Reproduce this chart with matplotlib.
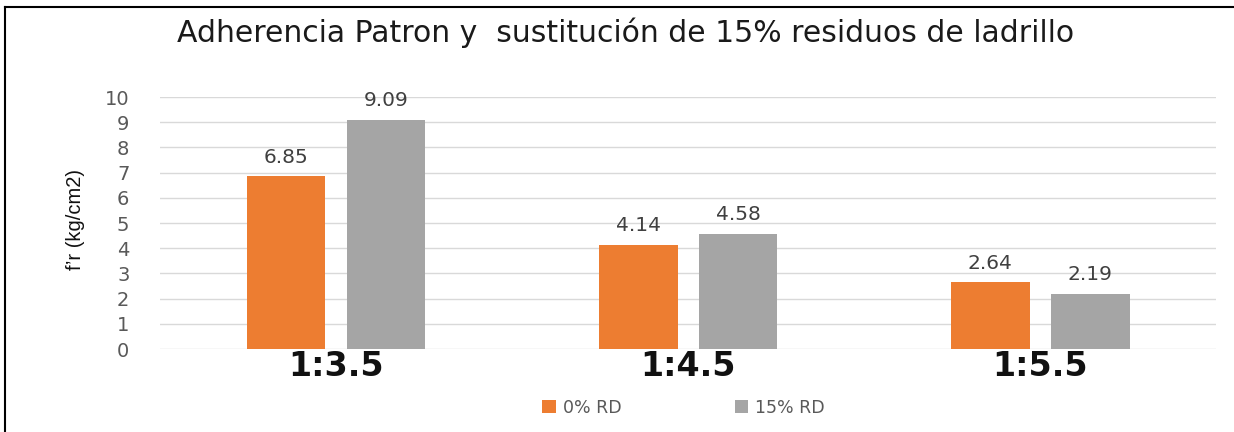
import matplotlib
matplotlib.use('Agg')
import matplotlib.pyplot as plt
import numpy as np
from matplotlib.patches import Patch
from matplotlib.lines import Line2D

CATEGORIES: list[str] = ['1:3.5', '1:4.5', '1:5.5']
SERIES_NAMES: list[str] = ['0% RD', '15% RD']
VALUES_0: list[float] = [6.85, 4.14, 2.64]
VALUES_15: list[float] = [9.09, 4.58, 2.19]
COLORS: list[str] = ['#ED7D31', '#A5A5A5']

plt.rcParams['font.family'] = ['Liberation Sans', 'DejaVu Sans']

fig = plt.figure(figsize=(12.34, 4.32), dpi=100)
ax = fig.add_axes([0.1297, 0.1921, 0.8558, 0.5833])

x = np.arange(len(CATEGORIES))
width = 0.224
offset = 0.142
for vals, col, off in ((VALUES_0, COLORS[0], -offset), (VALUES_15, COLORS[1], offset)):
    bars = ax.bar(x + off, vals, width=width, color=col, zorder=2)
    for b, v in zip(bars, vals):
        ax.annotate(f'{v:.2f}', (b.get_x() + b.get_width() / 2, v), xytext=(0, 7),
                    textcoords='offset points', ha='center', va='bottom',
                    fontsize=14.5, color='#404040', family='DejaVu Sans')

ax.set_xlim(-0.5, 2.5)
ax.set_ylim(0, 10)
ax.set_yticks(range(0, 11))
ax.grid(axis='y', color='#d9d9d9', linewidth=1, zorder=0)
for s in ax.spines.values():
    s.set_visible(False)
ax.tick_params(axis='y', length=0, pad=22, labelsize=14, labelcolor='#595959')
ax.set_yticklabels([str(i) for i in range(11)], family='DejaVu Sans')
ax.set_xticks(x)
ax.set_xticklabels(CATEGORIES, fontsize=24, color='#111111', family='DejaVu Sans', fontweight='semibold')
ax.tick_params(axis='x', length=0, pad=1)

fig.text(0.507, 0.924, 'Adherencia Patron y  sustitución de 15% residuos de ladrillo',
         ha='center', va='center', fontsize=21.5, color='#1a1a1a', family='DejaVu Sans')
fig.text(0.061, 0.491, 'f’r (kg/cm2)', rotation=90, ha='center', va='center',
         fontsize=14.5, color='#111111')

handles = [Patch(facecolor=c) for c in COLORS]
leg = fig.legend(handles, SERIES_NAMES, loc='center', bbox_to_anchor=(0.554, 0.056), ncol=2,
                 frameon=False, handlelength=0.8, handleheight=0.8, handletextpad=0.4,
                 columnspacing=6.5, prop={'family': 'DejaVu Sans', 'size': 12.5})
for t in leg.get_texts():
    t.set_color('#595959')

fig.add_artist(Line2D([0.0041, 0.0041], [0, 0.984], transform=fig.transFigure, color='black', linewidth=1.5))
fig.add_artist(Line2D([0.0041, 1], [0.984, 0.984], transform=fig.transFigure, color='black', linewidth=1.5))

fig.savefig('out.png', dpi=100)
